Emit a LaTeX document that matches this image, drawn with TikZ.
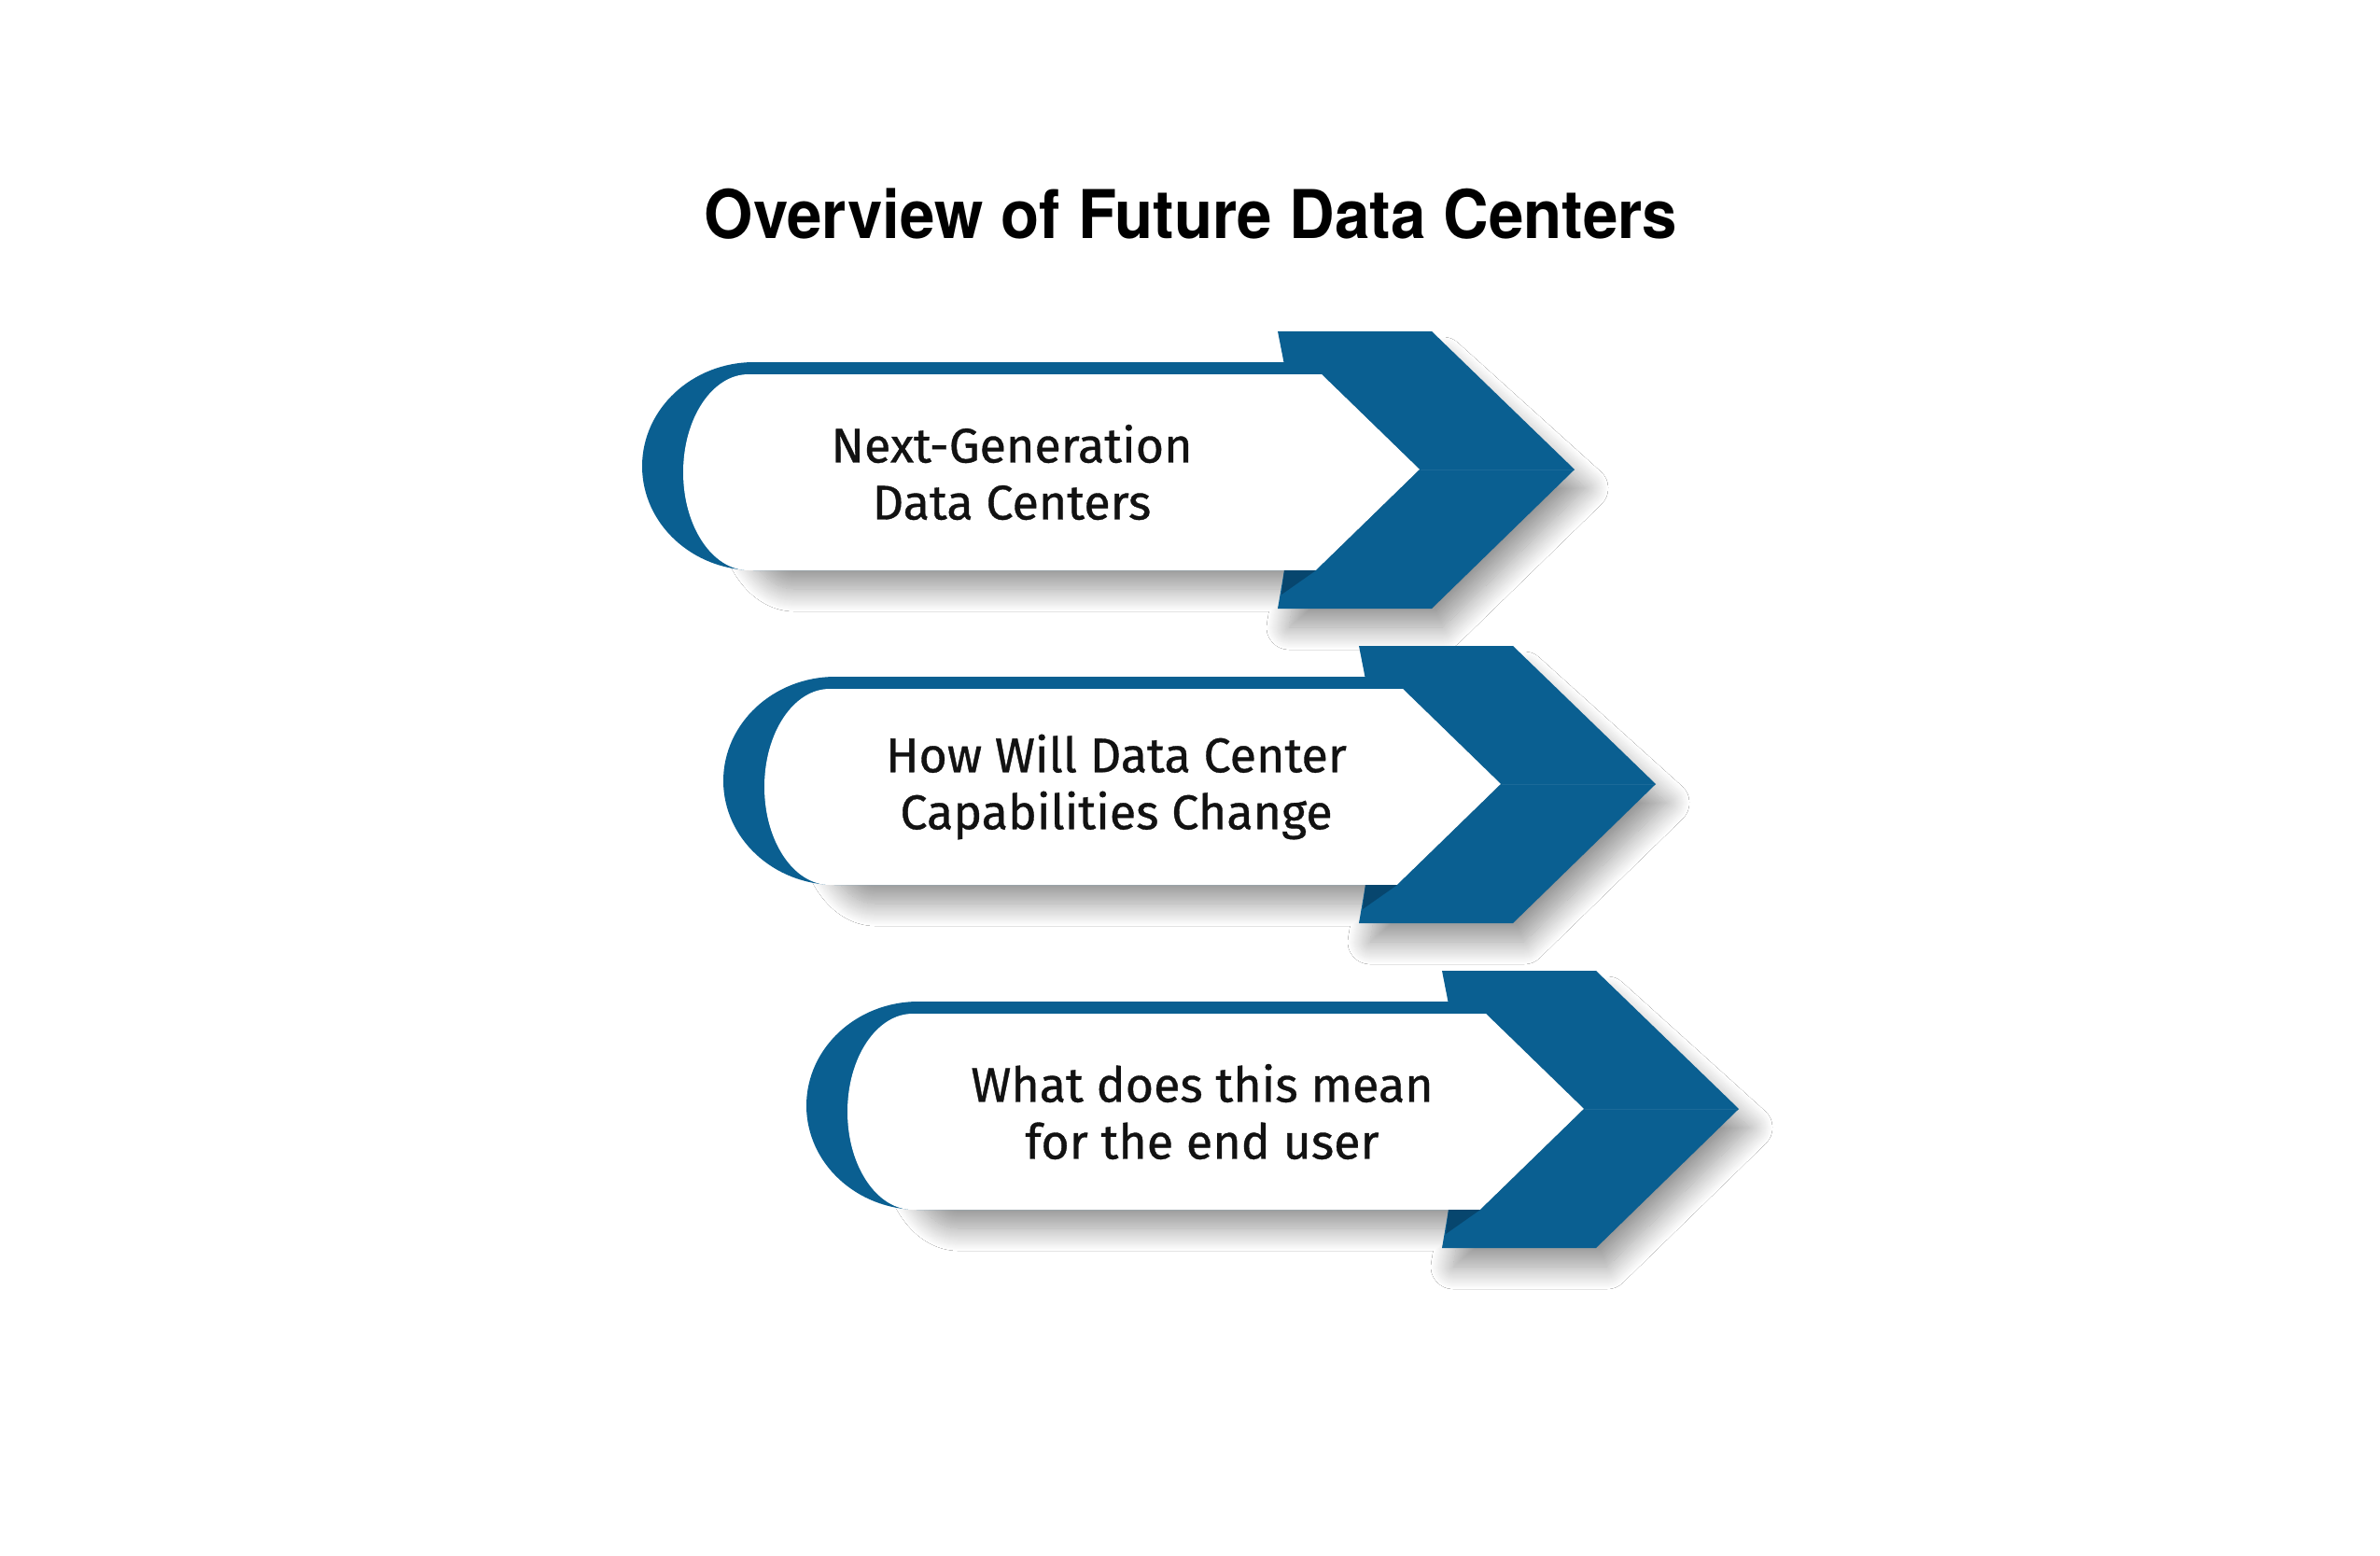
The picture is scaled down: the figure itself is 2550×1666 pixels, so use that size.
\documentclass[tikz,border=0pt]{standalone}
\usepackage{fontspec}
\setmainfont{Fira Sans}
\newfontfamily\labelfont[FakeBold=0.7]{Fira Sans}
\newfontfamily\titlefont{TeX Gyre Heros}
\usetikzlibrary{shadows.blur}
\definecolor{dcblue}{RGB}{10,95,145}
\definecolor{dcdark}{RGB}{7,70,110}
\definecolor{dctext}{RGB}{18,18,18}
\tikzset{
  bluefill/.style={fill=dcblue, draw=none},
  whitefill/.style={fill=white, draw=none},
  foldfill/.style={fill=dcdark, draw=none},
  softshadow/.style={blur shadow={shadow xshift=12pt, shadow yshift=-20pt, shadow blur radius=24pt, shadow blur steps=24, shadow opacity=42}},
  labeltext/.style={font=\labelfont\fontsize{52}{61}\selectfont, text=dctext, align=center, inner sep=0pt},
}
\newcommand\dcarrow[2]{%
 \begin{scope}[shift={(#1,#2)}]
  % shadow of the silhouette (kept clear of the left end)
  \path[softshadow] (30,70) -- (-530,70) arc[start angle=270, end angle=90, x radius=60, y radius=93]
     -- (7,256) -- (0,297) -- (165,297) -- (318,148) -- (165,10) -- (40,10) -- cycle;
  % blue band
  \path[bluefill] (60,33) -- (-561,33) arc[start angle=270, end angle=90, x radius=120, y radius=111.5]
     -- (60,256) -- cycle;
  % upper arm
  \path[bluefill] (0,0) -- (165,0) -- (318,148) -- (152,148) -- (47,46) -- (9,46) -- cycle;
  % white body
  \path[whitefill] (47,46) -- (-567,46) arc[start angle=270, end angle=90, x radius=70, y radius=105]
     -- (41,256) -- (152,148) -- cycle;
  % lower arm
  \path[bluefill] (7,256) -- (41,256) -- (152,148) -- (318,148) -- (165,297) -- (0,297) -- cycle;
  % fold
  \path[foldfill] (7,256) -- (41,256) -- (4,282) -- cycle;
  \draw[dcblue!93!white, line width=0.8pt] (153,148) -- (316,148);
 \end{scope}}
\begin{document}
\begin{tikzpicture}[x=1pt, y=-1pt]
\useasboundingbox[fill=white] (0,0) rectangle (2550,1666);
\node[font=\titlefont\bfseries\fontsize{72}{80}\selectfont, anchor=base, inner sep=0pt, xscale=0.935, transform shape] (title) at (1276,255) {Overview of Future Data Centers};
\dcarrow{1369}{355}
\dcarrow{1456}{692}
\dcarrow{1545}{1040}
\node[labeltext] (t1) at (1084,506) {Next-Generation\\Data Centers};
\node[labeltext] (t2) at (1196,843) {How Will Data Center\\Capabilities Change};
\node[labeltext] (t3) at (1288,1191) {What does this mean\\for the end user};
\end{tikzpicture}
\end{document}
